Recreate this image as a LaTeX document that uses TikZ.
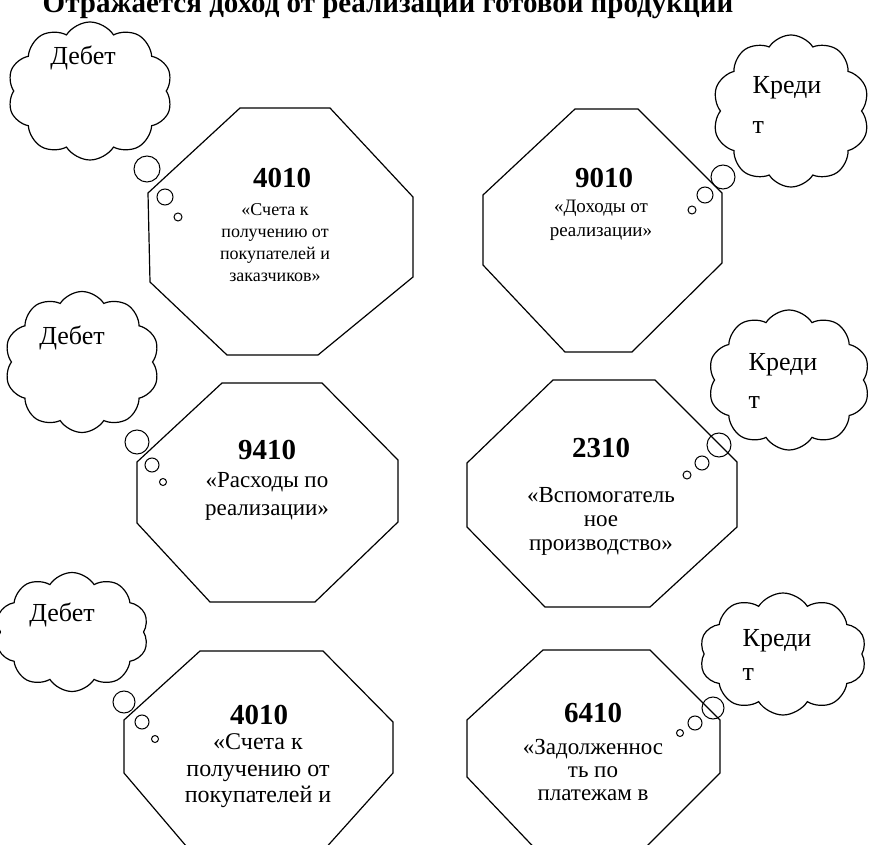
\documentclass[tikz,border=0pt]{standalone}
\usepackage{fontspec}
\setmainfont{Liberation Serif}
\usetikzlibrary{shapes.symbols}
\begin{document}
\begin{tikzpicture}[x=1pt,y=-1pt,line width=1.2pt,
  octa/.style={draw,line join=miter},
  puff/.style={cloud,draw,cloud puffs=10,cloud puff arc=115,inner sep=0pt},
  bubble/.style={circle,draw,inner sep=0pt,line width=1pt},
  numtxt/.style={inner sep=0pt,font=\fontsize{29}{33}\bfseries\selectfont},
  bodytxt/.style={inner sep=0pt,align=center},
  cloudtxt/.style={inner sep=0pt,align=left,font=\fontsize{26}{30}\selectfont}]
\useasboundingbox (0,0) rectangle (871,845);
\clip (0,0) rectangle (871,845);

% title (cut at the top edge, as in the reference)
\node[anchor=base,inner sep=0pt,font=\fontsize{29}{31}\bfseries\selectfont] (title) at (388,13) {Отражается доход от реализации готовой продукции};

% octagons
\draw[octa] (240,108) -- (330,108) -- (413,197) -- (413,277) -- (318,355) -- (227,355) -- (150,282) -- (148,193) -- cycle;
\draw[octa] (222,383) -- (322,383) -- (398,460) -- (398,522) -- (315,602) -- (210,602) -- (137,523) -- (137,462) -- cycle;
\draw[octa] (200,651) -- (323,651) -- (393,722) -- (393,773) -- (297,880) -- (215,880) -- (124,773) -- (124,720) -- cycle;
\draw[octa] (575,109) -- (638,109) -- (722,193) -- (722,263) -- (632,352) -- (565,352) -- (483,265) -- (483,195) -- cycle;
\draw[octa] (553,380) -- (655,380) -- (737,462) -- (737,527) -- (650,607) -- (545,607) -- (467,527) -- (467,463) -- cycle;
\draw[octa] (543,650) -- (650,650) -- (720,720) -- (720,773) -- (613,880) -- (565,880) -- (467,777) -- (467,720) -- cycle;

% octagon texts
\node[numtxt] (n1) at (282,178) {4010};
\node[bodytxt,font=\fontsize{18}{22}\selectfont] (t1) at (275,243) {«Счета к\\получению от\\покупателей и\\заказчиков»};
\node[numtxt] (n2) at (267,450) {9410};
\node[bodytxt,font=\fontsize{23}{28}\selectfont] (t2) at (267,496) {«Расходы по\\реализации»};
\node[numtxt] (n3) at (259,715) {4010};
\node[bodytxt,font=\fontsize{24}{26.5}\selectfont] (t3) at (258,771) {«Счета к\\получению от\\покупателей и};
\node[numtxt] (n4) at (604,178) {9010};
\node[bodytxt,font=\fontsize{19}{24}\selectfont] (t4) at (601,220) {«Доходы от\\реализации»};
\node[numtxt] (n5) at (601,448) {2310};
\node[bodytxt,font=\fontsize{23}{24}\selectfont] (t5) at (601,521) {«Вспомогатель\\ное\\производство»};
\node[numtxt] (n6) at (593,713) {6410};
\node[bodytxt,font=\fontsize{23}{23}\selectfont] (t6) at (593,770) {«Задолженнос\\ть по\\платежам в};

% clouds
\node[puff,minimum width=165pt,minimum height=138pt] (c1) at (90,91) {};
\node[puff,minimum width=157pt,minimum height=152pt] (c2) at (791,111) {};
\node[puff,minimum width=155pt,minimum height=141pt] (c3) at (82,362) {};
\node[puff,minimum width=162pt,minimum height=140pt] (c4) at (789,380) {};
\node[puff,minimum width=153pt,minimum height=119pt] (c5) at (72,632) {};
\node[puff,minimum width=167pt,minimum height=122pt] (c6) at (783,654) {};

% cloud texts
\node[cloudtxt] (d1) at (83,58) {Дебет};
\node[cloudtxt] (d3) at (72,338) {Дебет};
\node[cloudtxt] (d5) at (62,615) {Дебет};
\node[cloudtxt,font=\fontsize{26}{40}\selectfont] (k2) at (787,105) {Креди\\т};
\node[cloudtxt,font=\fontsize{26}{38}\selectfont] (k4) at (783,381) {Креди\\т};
\node[cloudtxt,font=\fontsize{26}{34}\selectfont] (k6) at (777,655) {Креди\\т};

% thought bubbles
\node[bubble,minimum size=26pt] (b1a) at (147,169) {};
\node[bubble,minimum size=16pt] (b1b) at (165,197) {};
\node[bubble,minimum size=8pt]  (b1c) at (178,217) {};
\node[bubble,minimum size=24pt] (b2a) at (723,177) {};
\node[bubble,minimum size=16pt] (b2b) at (705,195) {};
\node[bubble,minimum size=8pt]  (b2c) at (692,210) {};
\node[bubble,minimum size=24pt] (b3a) at (137,442) {};
\node[bubble,minimum size=14pt] (b3b) at (152,465) {};
\node[bubble,minimum size=7pt]  (b3c) at (163,482) {};
\node[bubble,minimum size=24pt] (b4a) at (719,445) {};
\node[bubble,minimum size=14pt] (b4b) at (702,463) {};
\node[bubble,minimum size=8pt]  (b4c) at (687,475) {};
\node[bubble,minimum size=22pt] (b5a) at (124,702) {};
\node[bubble,minimum size=14pt] (b5b) at (142,722) {};
\node[bubble,minimum size=7pt]  (b5c) at (155,739) {};
\node[bubble,minimum size=22pt] (b6a) at (713,708) {};
\node[bubble,minimum size=14pt] (b6b) at (695,723) {};
\node[bubble,minimum size=7pt]  (b6c) at (680,733) {};
\end{tikzpicture}
\end{document}
